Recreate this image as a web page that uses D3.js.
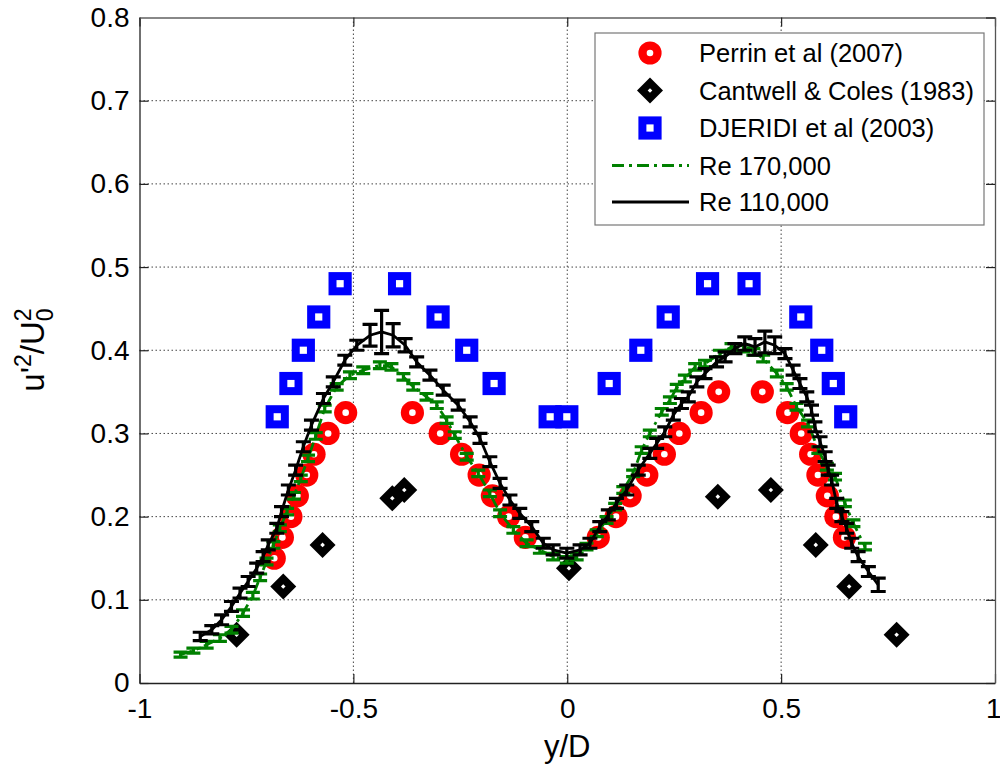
<!DOCTYPE html>
<html>
<head>
<meta charset="utf-8">
<script src="https://cdn.jsdelivr.net/npm/d3@7"></script>
<style>
  html, body { margin: 0; padding: 0; background: #fff; }
  svg text { font-family: "Liberation Sans", Arial, Helvetica, sans-serif; fill: #000; }
</style>
</head>
<body>
<svg id="chart" width="1000" height="772"></svg>
<script>
// Reynolds-stress profiles u'^2/U0^2 across the wake, y/D

const xTicks = [-1, -0.5, 0, 0.5, 1];
const xTickLabels = ["-1", "-0.5", "0", "0.5", "1"];
const yTicks = [0, 0.1, 0.2, 0.3, 0.4, 0.5, 0.6, 0.7, 0.8];
const yTickLabels = ["0", "0.1", "0.2", "0.3", "0.4", "0.5", "0.6", "0.7", "0.8"];

// Perrin et al (2007)
const perrinX = [-0.685, -0.666, -0.646, -0.631, -0.609, -0.592, -0.559, -0.518,
                 -0.362, -0.297, -0.247, -0.206, -0.175, -0.137, -0.098,
                 0.0725, 0.114, 0.147, 0.186, 0.227, 0.262, 0.313, 0.354,
                 0.456, 0.515, 0.547, 0.569, 0.586, 0.608, 0.628, 0.648];
const perrinY = [0.15, 0.175, 0.2, 0.225, 0.25, 0.275, 0.3, 0.325,
                 0.325, 0.3, 0.275, 0.25, 0.225, 0.2, 0.175,
                 0.175, 0.2, 0.225, 0.25, 0.275, 0.3, 0.325, 0.35,
                 0.35, 0.325, 0.3, 0.275, 0.25, 0.225, 0.2, 0.175];

// Cantwell & Coles (1983)
const cantwellX = [-0.773, -0.664, -0.572, -0.409, -0.381, 0.004, 0.352, 0.476, 0.581, 0.659, 0.770];
const cantwellY = [0.058, 0.116, 0.166, 0.222, 0.232, 0.138, 0.224, 0.232, 0.166, 0.116, 0.058];

// DJERIDI et al (2003)
const djeridiX = [-0.678, -0.646, -0.617, -0.581, -0.531, -0.392, -0.302, -0.235, -0.171, -0.040,
                  -0.001, 0.098, 0.172, 0.236, 0.328, 0.425, 0.546, 0.595, 0.622, 0.651];
const djeridiY = [0.32, 0.36, 0.40, 0.44, 0.48, 0.48, 0.44, 0.40, 0.36, 0.32,
                  0.32, 0.36, 0.40, 0.44, 0.48, 0.48, 0.44, 0.40, 0.36, 0.32];

// Re 170,000 (mean and half error bar)
const re170X = [-0.904, -0.874, -0.843, -0.812, -0.785, -0.758, -0.735, -0.718, -0.703, -0.687,
                -0.672, -0.655, -0.639, -0.623, -0.606, -0.588, -0.567, -0.539, -0.508, -0.477,
                -0.438, -0.411, -0.383, -0.360, -0.329, -0.305, -0.282, -0.263, -0.235, -0.208,
                -0.181, -0.157, -0.126, -0.095, -0.064, -0.033, -0.001, 0.022, 0.045, 0.069,
                0.092, 0.112, 0.131, 0.154, 0.174, 0.193, 0.221, 0.240, 0.256, 0.275,
                0.299, 0.322, 0.357, 0.384, 0.412, 0.435, 0.458, 0.490, 0.513, 0.536,
                0.563, 0.587, 0.607, 0.626, 0.649, 0.669, 0.696];
const re170Y = [0.034, 0.039, 0.046, 0.054, 0.064, 0.084, 0.105, 0.127, 0.146, 0.166,
                0.186, 0.206, 0.225, 0.246, 0.270, 0.297, 0.330, 0.356, 0.370, 0.376,
                0.382, 0.380, 0.368, 0.356, 0.344, 0.334, 0.316, 0.298, 0.272, 0.252,
                0.228, 0.204, 0.184, 0.168, 0.160, 0.152, 0.148, 0.152, 0.164, 0.180,
                0.196, 0.212, 0.232, 0.252, 0.280, 0.300, 0.326, 0.340, 0.355, 0.366,
                0.380, 0.384, 0.396, 0.404, 0.402, 0.398, 0.390, 0.372, 0.356, 0.332,
                0.312, 0.280, 0.260, 0.248, 0.216, 0.192, 0.164];
const re170Err = [0.003, 0.003, 0.004, 0.004, 0.004, 0.004, 0.004, 0.004, 0.004, 0.004,
                  0.004, 0.004, 0.004, 0.004, 0.004, 0.004, 0.004, 0.004, 0.004, 0.004,
                  0.004, 0.004, 0.004, 0.004, 0.004, 0.004, 0.004, 0.004, 0.004, 0.004,
                  0.004, 0.004, 0.004, 0.004, 0.004, 0.004, 0.004, 0.004, 0.004, 0.004,
                  0.004, 0.004, 0.004, 0.004, 0.004, 0.004, 0.004, 0.004, 0.004, 0.004,
                  0.004, 0.004, 0.004, 0.004, 0.004, 0.004, 0.004, 0.004, 0.004, 0.004,
                  0.004, 0.004, 0.004, 0.004, 0.004, 0.004, 0.004];

// Re 110,000 (mean and half error bar)
const re110X = [-0.858, -0.831, -0.808, -0.785, -0.765, -0.746, -0.726, -0.711, -0.699, -0.679,
                -0.668, -0.652, -0.635, -0.617, -0.598, -0.570, -0.547, -0.520, -0.492, -0.461,
                -0.434, -0.407, -0.379, -0.352, -0.321, -0.290, -0.255, -0.227, -0.204, -0.181,
                -0.157, -0.134, -0.111, -0.083, -0.056, -0.033, -0.001, 0.030, 0.053, 0.076,
                0.096, 0.115, 0.139, 0.166, 0.193, 0.209, 0.228, 0.248, 0.267, 0.283,
                0.303, 0.322, 0.349, 0.369, 0.392, 0.415, 0.439, 0.462, 0.485, 0.509,
                0.528, 0.544, 0.560, 0.571, 0.579, 0.591, 0.603, 0.610, 0.618, 0.630,
                0.642, 0.653, 0.665, 0.680, 0.704, 0.727];
const re110Y = [0.056, 0.064, 0.076, 0.092, 0.108, 0.122, 0.138, 0.152, 0.166, 0.186,
                0.206, 0.232, 0.256, 0.284, 0.310, 0.342, 0.362, 0.388, 0.406, 0.418,
                0.422, 0.418, 0.406, 0.386, 0.370, 0.352, 0.334, 0.314, 0.294, 0.266,
                0.240, 0.220, 0.204, 0.188, 0.168, 0.160, 0.156, 0.160, 0.168, 0.188,
                0.202, 0.216, 0.232, 0.256, 0.276, 0.288, 0.302, 0.322, 0.336, 0.344,
                0.362, 0.372, 0.386, 0.392, 0.402, 0.408, 0.404, 0.410, 0.406, 0.396,
                0.376, 0.360, 0.344, 0.328, 0.308, 0.290, 0.272, 0.256, 0.244, 0.216,
                0.200, 0.186, 0.168, 0.152, 0.134, 0.118];
const re110Err = [0.005, 0.005, 0.006, 0.006, 0.006, 0.006, 0.006, 0.006, 0.006, 0.006,
                  0.006, 0.006, 0.006, 0.006, 0.006, 0.006, 0.006, 0.006, 0.006, 0.013,
                  0.026, 0.014, 0.008, 0.006, 0.006, 0.006, 0.006, 0.006, 0.006, 0.006,
                  0.006, 0.006, 0.006, 0.006, 0.006, 0.006, 0.006, 0.006, 0.006, 0.006,
                  0.006, 0.006, 0.006, 0.006, 0.006, 0.006, 0.006, 0.006, 0.006, 0.006,
                  0.006, 0.006, 0.006, 0.006, 0.006, 0.008, 0.010, 0.013, 0.010, 0.006,
                  0.006, 0.006, 0.006, 0.006, 0.006, 0.006, 0.006, 0.006, 0.006, 0.006,
                  0.006, 0.006, 0.006, 0.006, 0.006, 0.008];

const legendLabels = ["Perrin et al (2007)", "Cantwell & Coles (1983)", "DJERIDI et al (2003)",
                      "Re 170,000", "Re 110,000"];

const RED = "#ff0000", BLUE = "#0000ff", GREEN = "#008000", BLACK = "#000000";

const svg = d3.select("#chart");
svg.append("rect").attr("width", 1000).attr("height", 772).attr("fill", "#fff");

const plot = { left: 139.5, right: 995, top: 17.5, bottom: 683 };
const x = d3.scaleLinear().domain([-1, 1]).range([plot.left, plot.right]);
const y = d3.scaleLinear().domain([0, 0.8]).range([plot.bottom, plot.top]);

const zip = (xs, ys, es) => xs.map((v, i) => ({ x: v, y: ys[i], e: es ? es[i] : 0 }));

// grid
const grid = svg.append("g");
grid.selectAll("line.gx").data(xTicks.slice(1, -1)).join("line")
  .attr("x1", d => x(d)).attr("x2", d => x(d))
  .attr("y1", plot.top).attr("y2", plot.bottom)
  .attr("stroke", "#444").attr("stroke-width", 1).attr("stroke-dasharray", "1.5,2.5");
grid.selectAll("line.gy").data(yTicks.slice(1, -1)).join("line")
  .attr("y1", d => y(d)).attr("y2", d => y(d))
  .attr("x1", plot.left).attr("x2", plot.right)
  .attr("stroke", "#444").attr("stroke-width", 1).attr("stroke-dasharray", "1.5,2.5");

// axes (inward ticks on all four sides)
const tickLen = 9;
const axB = svg.append("g").attr("transform", `translate(0,${plot.bottom})`)
  .call(d3.axisBottom(x).tickValues(xTicks).tickFormat((d, i) => xTickLabels[i])
        .tickSizeInner(-tickLen).tickSizeOuter(0).tickPadding(15));
const axL = svg.append("g").attr("transform", `translate(${plot.left},0)`)
  .call(d3.axisLeft(y).tickValues(yTicks).tickFormat((d, i) => yTickLabels[i])
        .tickSizeInner(-tickLen).tickSizeOuter(0).tickPadding(10));
const axT = svg.append("g").attr("transform", `translate(0,${plot.top})`)
  .call(d3.axisTop(x).tickValues(xTicks).tickFormat("").tickSizeInner(-tickLen).tickSizeOuter(0));
const axR = svg.append("g").attr("transform", `translate(${plot.right},0)`)
  .call(d3.axisRight(y).tickValues(yTicks).tickFormat("").tickSizeInner(-tickLen).tickSizeOuter(0));
[axB, axL, axT, axR].forEach(a => {
  a.select(".domain").attr("stroke", "#222").attr("stroke-width", 1.3);
  a.selectAll(".tick line").attr("stroke", "#222").attr("stroke-width", 1.2);
  a.selectAll(".tick text").attr("font-size", 28).attr("font-family", "Liberation Sans, Arial, sans-serif").attr("fill", "#000");
});
axT.select(".domain").attr("stroke", "#888").attr("stroke-width", 2);
axR.select(".domain").attr("stroke", "#555");
// keep the last x label inside the page edge
axB.selectAll(".tick text").filter(d => d === 1).attr("text-anchor", "end").attr("dx", 6);

// axis titles
svg.append("text").attr("x", x(0)).attr("y", 757).attr("text-anchor", "middle")
  .attr("font-size", 31).text("y/D");

const yl = svg.append("text").attr("transform", "translate(44,350) rotate(-90)")
  .attr("text-anchor", "middle").attr("font-size", 33);
yl.append("tspan").text("u'");
yl.append("tspan").attr("font-size", 23).attr("dy", -13).text("2");
yl.append("tspan").attr("dy", 13).text("/U");
yl.append("tspan").attr("font-size", 23).attr("dy", 9).text("0");
yl.append("tspan").attr("font-size", 23).attr("dx", -12.8).attr("dy", -22).text("2");

// marker shapes
function circleMarker(g, cx, cy) {
  g.append("circle").attr("cx", cx).attr("cy", cy).attr("r", 11.6).attr("fill", RED);
  g.append("circle").attr("cx", cx).attr("cy", cy).attr("r", 3.3).attr("fill", "#fff");
}
function diamondMarker(g, cx, cy) {
  const o = 13, i = 2.3;
  g.append("path").attr("d", `M${cx},${cy - o}L${cx + o},${cy}L${cx},${cy + o}L${cx - o},${cy}Z`).attr("fill", BLACK);
  g.append("path").attr("d", `M${cx},${cy - i}L${cx + i},${cy}L${cx},${cy + i}L${cx - i},${cy}Z`).attr("fill", "#fff");
}
function squareMarker(g, cx, cy) {
  const o = 11.6, i = 3.6;
  g.append("rect").attr("x", cx - o).attr("y", cy - o).attr("width", 2 * o).attr("height", 2 * o).attr("fill", BLUE);
  g.append("rect").attr("x", cx - i).attr("y", cy - i).attr("width", 2 * i).attr("height", 2 * i).attr("fill", "#fff");
}

// scatter series
const marks = svg.append("g");
zip(perrinX, perrinY).forEach(d => circleMarker(marks, x(d.x), y(d.y)));
zip(cantwellX, cantwellY).forEach(d => diamondMarker(marks, x(d.x), y(d.y)));
zip(djeridiX, djeridiY).forEach(d => squareMarker(marks, x(d.x), y(d.y)));

// line series with error bars
function errorSeries(data, color, dash, capHalf) {
  const g = svg.append("g");
  g.append("path").datum(data)
    .attr("d", d3.line().x(d => x(d.x)).y(d => y(d.y)))
    .attr("fill", "none").attr("stroke", color).attr("stroke-width", 2.8)
    .attr("stroke-dasharray", dash).attr("stroke-linejoin", "round");
  g.selectAll("path.eb").data(data).join("path").attr("class", "eb")
    .attr("d", d => {
      const cx = x(d.x), y1 = y(d.y + d.e), y2 = y(d.y - d.e);
      return `M${cx - capHalf},${y1}H${cx + capHalf}M${cx},${y1}V${y2}M${cx - capHalf},${y2}H${cx + capHalf}`;
    })
    .attr("fill", "none").attr("stroke", color).attr("stroke-width", 3.2);
}
errorSeries(zip(re170X, re170Y, re170Err), GREEN, "12,5,3,5", 7);
errorSeries(zip(re110X, re110Y, re110Err), BLACK, null, 7.5);

// legend
const lg = svg.append("g");
lg.append("rect").attr("x", 595).attr("y", 33).attr("width", 389).attr("height", 192)
  .attr("fill", "#fff").attr("stroke", "#777").attr("stroke-width", 1.2);
const rowY = [53, 90.5, 128, 165.5, 202];
circleMarker(lg, 650, rowY[0]);
diamondMarker(lg, 650, rowY[1]);
squareMarker(lg, 650, rowY[2]);
lg.append("line").attr("x1", 612).attr("x2", 689).attr("y1", rowY[3]).attr("y2", rowY[3])
  .attr("stroke", GREEN).attr("stroke-width", 2.8).attr("stroke-dasharray", "12,5,3,5");
lg.append("line").attr("x1", 612).attr("x2", 689).attr("y1", rowY[4]).attr("y2", rowY[4])
  .attr("stroke", BLACK).attr("stroke-width", 2.8);
lg.selectAll("text").data(legendLabels).join("text")
  .attr("x", 699).attr("y", (d, i) => rowY[i] + 9).attr("font-size", 25.5).text(d => d);
</script>
</body>
</html>
